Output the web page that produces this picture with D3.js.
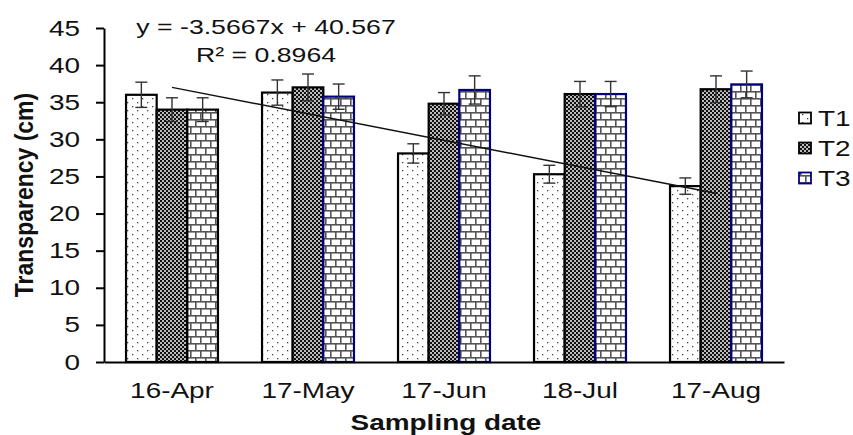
<!DOCTYPE html>
<html>
<head>
<meta charset="utf-8">
<script src="https://cdn.jsdelivr.net/npm/d3@7"></script>
<style>
  body { margin: 0; background: #fff; }
  text { font-family: Arial, "Liberation Sans", sans-serif; fill: #111; }
</style>
</head>
<body>
<svg id="chart" width="853" height="435"></svg>
<script>
// data
var dates = ["16-Apr", "17-May", "17-Jun", "18-Jul", "17-Aug"];
var seriesNames = ["T1", "T2", "T3"];
var t1 = [36.0, 36.3, 28.1, 25.3, 23.7];
var t2 = [34.0, 37.0, 34.8, 36.1, 36.75];
var t3 = [34.0, 35.75, 36.65, 36.1, 37.4];
var t1Err = [1.7, 1.7, 1.3, 1.2, 1.1];
var t2Err = [1.6, 1.8, 1.5, 1.7, 1.8];
var t3Err = [1.6, 1.7, 1.9, 1.7, 1.8];
var yTicks = [0, 5, 10, 15, 20, 25, 30, 35, 40, 45];
// linear trend of T1 as printed on the chart
var trendSlope = -3.5667;
var trendIntercept = 40.567;
var trendLabel = "y = -3.5667x + 40.567";
var r2Label = "R\u00b2 = 0.8964";

var SX = 1.27; // the picture is stretched sideways, so is the text
var svg = d3.select("#chart");
var plotLeft = 104, plotRight = 784, plotTop = 28, plotBottom = 362;

var x = d3.scaleBand().domain(dates).range([plotLeft, plotRight]).paddingInner(0.324).paddingOuter(0.162);
var xs = d3.scaleBand().domain(seriesNames).range([0, x.bandwidth()]);
var y = d3.scaleLinear().domain([0, 45]).range([plotBottom, plotTop]);

// fill patterns
var defs = svg.append("defs");
var pDots = defs.append("pattern").attr("id", "pDots").attr("patternUnits", "userSpaceOnUse")
  .attr("width", 10).attr("height", 8);
pDots.append("rect").attr("width", 10).attr("height", 8).attr("fill", "#fff");
pDots.append("rect").attr("x", 2).attr("y", 2).attr("width", 1.3).attr("height", 1.3).attr("fill", "#444");
pDots.append("rect").attr("x", 7).attr("y", 6).attr("width", 1.3).attr("height", 1.3).attr("fill", "#444");

var pCheck = defs.append("pattern").attr("id", "pCheck").attr("patternUnits", "userSpaceOnUse")
  .attr("width", 4).attr("height", 4);
pCheck.append("rect").attr("width", 4).attr("height", 4).attr("fill", "#bbb");
pCheck.append("rect").attr("width", 2).attr("height", 2).attr("fill", "#111");
pCheck.append("rect").attr("x", 2).attr("y", 2).attr("width", 2).attr("height", 2).attr("fill", "#111");

var pBrick = defs.append("pattern").attr("id", "pBrick").attr("patternUnits", "userSpaceOnUse")
  .attr("width", 10).attr("height", 14);
pBrick.append("rect").attr("width", 10).attr("height", 14).attr("fill", "#fff");
pBrick.append("rect").attr("y", 0).attr("width", 10).attr("height", 1.6).attr("fill", "#555");
pBrick.append("rect").attr("y", 7).attr("width", 10).attr("height", 1.6).attr("fill", "#555");
pBrick.append("rect").attr("x", 0).attr("y", 0).attr("width", 1.6).attr("height", 7).attr("fill", "#555");
pBrick.append("rect").attr("x", 5).attr("y", 7).attr("width", 1.6).attr("height", 7).attr("fill", "#555");

var fills = {T1: "url(#pDots)", T2: "url(#pCheck)", T3: "url(#pBrick)"};
var borders = {T1: "#000", T2: "#000", T3: "#000080"};

var rows = [];
dates.forEach(function(d, i) {
  rows.push({date: d, s: "T1", v: t1[i], e: t1Err[i], i: i});
  rows.push({date: d, s: "T2", v: t2[i], e: t2Err[i], i: i});
  rows.push({date: d, s: "T3", v: t3[i], e: t3Err[i], i: i});
});

// axes
var yAxis = svg.append("g").attr("transform", "translate(" + plotLeft + ",0)")
  .call(d3.axisLeft(y).tickValues(yTicks).tickSize(8).tickSizeOuter(0).tickPadding(10.9));
yAxis.selectAll("path, line").attr("stroke", "#000").attr("stroke-width", 2);
yAxis.selectAll("text").attr("font-size", 22).attr("fill", "#111")
  .attr("transform", "scale(" + SX + ",1)").style("font-family", "Arial, 'Liberation Sans', sans-serif");

// bars
svg.append("g").selectAll("rect").data(rows).enter().append("rect")
  .attr("x", function(d) { return x(d.date) + xs(d.s); })
  .attr("y", function(d) { return y(d.v); })
  .attr("width", xs.bandwidth())
  .attr("height", function(d) { return y(0) - y(d.v); })
  .attr("fill", function(d) { return fills[d.s]; })
  .attr("stroke", function(d) { return (d.s == "T3" && d.i == 0) ? "#000" : borders[d.s]; })
  .attr("stroke-width", 2.2);

var xAxis = svg.append("g").attr("transform", "translate(0," + plotBottom + ")")
  .call(d3.axisBottom(x).tickSize(0).tickSizeOuter(0).tickPadding(20.4));
xAxis.select("path").attr("stroke", "#000").attr("stroke-width", 2);
xAxis.selectAll("text").attr("font-size", 22).attr("fill", "#111")
  .attr("transform", "scale(" + SX + ",1)").style("font-family", "Arial, 'Liberation Sans', sans-serif");

// error bars
var eb = svg.append("g").attr("stroke", "#333").attr("stroke-width", 1.4);
rows.forEach(function(d) {
  var cx = x(d.date) + xs(d.s) + xs.bandwidth() / 2;
  eb.append("line").attr("x1", cx).attr("x2", cx).attr("y1", y(d.v - d.e)).attr("y2", y(d.v + d.e));
  eb.append("line").attr("x1", cx - 6).attr("x2", cx + 6).attr("y1", y(d.v + d.e)).attr("y2", y(d.v + d.e));
  eb.append("line").attr("x1", cx - 6).attr("x2", cx + 6).attr("y1", y(d.v - d.e)).attr("y2", y(d.v - d.e));
});

// trend line over the T1 series
var cx0 = x(dates[0]) + x.bandwidth() / 2;
var cx1 = x(dates[dates.length - 1]) + x.bandwidth() / 2;
svg.append("line")
  .attr("x1", cx0).attr("y1", y(trendSlope * 1 + trendIntercept))
  .attr("x2", cx1).attr("y2", y(trendSlope * dates.length + trendIntercept))
  .attr("stroke", "#111").attr("stroke-width", 1.5);

function stretchedText(tx, ty, str, size, weight, anchor) {
  return svg.append("text")
    .attr("transform", "translate(" + tx + "," + ty + ") scale(" + SX + ",1)")
    .attr("font-size", size).attr("font-weight", weight || "normal")
    .attr("text-anchor", anchor || "start").text(str);
}

stretchedText(266, 34, trendLabel, 21, "normal", "middle");
stretchedText(266, 61.5, r2Label, 21, "normal", "middle");

// axis titles
stretchedText(446, 430, "Sampling date", 22, "bold", "middle");
svg.append("text")
  .attr("transform", "translate(33,195) scale(1.1,1) rotate(-90)")
  .attr("font-size", 23).attr("font-weight", "bold").attr("text-anchor", "middle")
  .text("Transparency (cm)");

// legend
var lg = svg.append("g");
seriesNames.forEach(function(s, i) {
  var ly = 118 + i * 30;
  lg.append("rect").attr("x", 799).attr("y", ly - 5.5).attr("width", 12).attr("height", 11)
    .attr("fill", fills[s]).attr("stroke", borders[s]).attr("stroke-width", 1.8);
  stretchedText(818, ly + 8, s, 22, "normal", "start");
});
</script>
</body>
</html>
